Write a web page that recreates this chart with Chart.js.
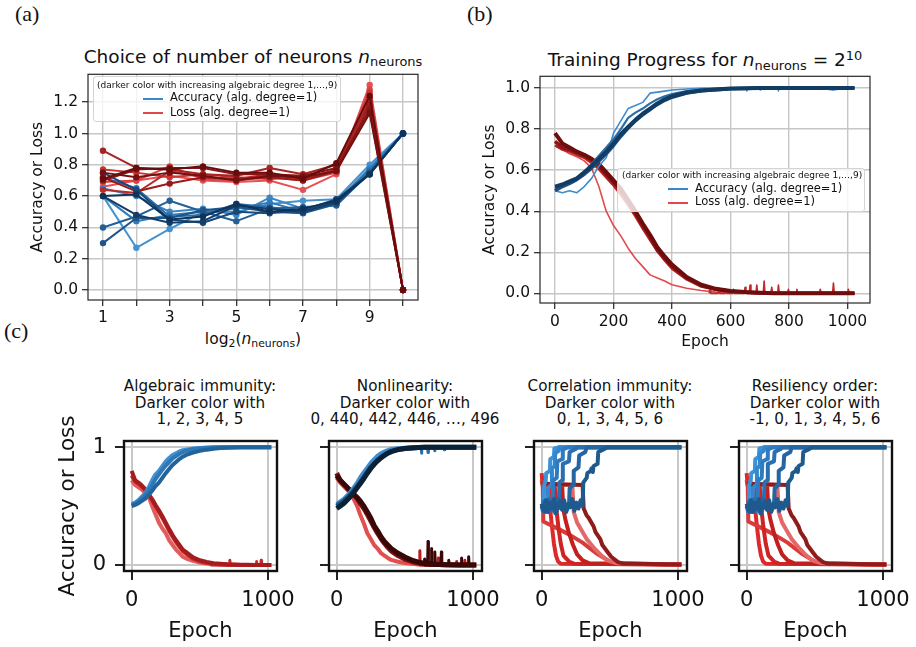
<!DOCTYPE html>
<html>
<head>
<meta charset="utf-8">
<title>Accuracy and loss vs. neurons and epochs</title>
<script src="https://cdn.jsdelivr.net/npm/chart.js@4.4.1/dist/chart.umd.min.js"></script>
<style>
  body { margin: 0; width: 916px; height: 647px; position: relative; overflow: hidden; background: #fff;
         font-family: "DejaVu Sans", sans-serif; color: #111; }
  canvas { position: absolute; }
  .t { position: absolute; white-space: nowrap; }
  .c { text-align: center; }
  .pl { font-family: "Liberation Serif", serif; font-size: 22px; line-height: 22px; }
  .sb { font-size: 70%; position: relative; top: 0.28em; }
  .sp { font-size: 70%; position: relative; top: -0.5em; }
  .leg { position: absolute; background: rgba(255,255,255,0.8); border: 1px solid #d4d4d4; border-radius: 3px; box-sizing: border-box; }
  .lh { font-size: 9px; line-height: 9px; }
  .le { font-size: 11.5px; line-height: 11.5px; }
  .ln { position: absolute; height: 2px; width: 20px; }
</style>
</head>
<body>

<div class="t pl" style="left:15px;top:3px">(a)</div>
<div class="t pl" style="left:467px;top:3px">(b)</div>
<div class="t pl" style="left:4px;top:320px">(c)</div>

<div class="t c" style="left:0;width:506px;top:47.5px;font-size:18.5px;line-height:18.5px">Choice of number of neurons <i>n</i><span class="sb">neurons</span></div>
<div class="t c" style="left:405px;width:600px;top:51px;font-size:18.5px;line-height:18.5px">Training Progress for <i>n</i><span class="sb">neurons</span> = 2<span class="sp">10</span></div>
<div class="t c" style="left:0;width:506px;top:332px;font-size:15.5px;line-height:15.5px">log<span class="sb">2</span>(<i>n</i><span class="sb">neurons</span>)</div>

<div class="t c" style="left:50px;width:300px;top:378px;font-size:15.2px;line-height:16.7px">Algebraic immunity:<br>Darker color with<br>1, 2, 3, 4, 5</div>
<div class="t c" style="left:255px;width:300px;top:378px;font-size:15.2px;line-height:16.7px">Nonlinearity:<br>Darker color with<br>0, 440, 442, 446, …, 496</div>
<div class="t c" style="left:460px;width:300px;top:378px;font-size:15.2px;line-height:16.7px">Correlation immunity:<br>Darker color with<br>0, 1, 3, 4, 5, 6</div>
<div class="t c" style="left:665px;width:300px;top:378px;font-size:15.2px;line-height:16.7px">Resiliency order:<br>Darker color with<br>-1, 0, 1, 3, 4, 5, 6</div>

<script>
// ---------- (a) final accuracy / loss vs log2(n_neurons), one row per algebraic degree 1..9
const log2Neurons = [1, 2, 3, 4, 5, 6, 7, 8, 9, 10];
const accA = [
  [0.60, 0.27, 0.39, 0.50, 0.50, 0.55, 0.57, 0.58, 0.80, 1.00],
  [0.65, 0.60, 0.50, 0.52, 0.48, 0.59, 0.52, 0.56, 0.78, 1.00],
  [0.60, 0.44, 0.48, 0.50, 0.52, 0.56, 0.50, 0.55, 0.77, 1.00],
  [0.72, 0.65, 0.47, 0.48, 0.55, 0.53, 0.50, 0.57, 0.76, 1.00],
  [0.40, 0.47, 0.57, 0.50, 0.44, 0.52, 0.53, 0.54, 0.75, 1.00],
  [0.30, 0.46, 0.46, 0.51, 0.53, 0.50, 0.49, 0.55, 0.75, 1.00],
  [0.75, 0.64, 0.45, 0.43, 0.50, 0.49, 0.51, 0.58, 0.74, 1.00],
  [0.60, 0.48, 0.43, 0.44, 0.54, 0.52, 0.50, 0.56, 0.74, 1.00],
  [0.60, 0.61, 0.45, 0.47, 0.55, 0.50, 0.52, 0.57, 0.74, 1.00]
];
const lossA = [
  [0.66, 0.70, 0.73, 0.70, 0.69, 0.70, 0.64, 0.74, 1.31, 0.00],
  [0.69, 0.70, 0.79, 0.71, 0.70, 0.72, 0.70, 0.75, 1.28, 0.00],
  [0.77, 0.75, 0.72, 0.74, 0.72, 0.71, 0.72, 0.76, 1.26, 0.00],
  [0.64, 0.62, 0.76, 0.72, 0.71, 0.74, 0.71, 0.77, 1.22, 0.00],
  [0.89, 0.78, 0.77, 0.74, 0.73, 0.78, 0.74, 0.80, 1.20, 0.00],
  [0.72, 0.63, 0.68, 0.72, 0.71, 0.72, 0.70, 0.76, 1.18, 0.00],
  [0.70, 0.77, 0.78, 0.78, 0.74, 0.74, 0.73, 0.78, 1.15, 0.00],
  [0.75, 0.72, 0.75, 0.73, 0.70, 0.73, 0.72, 0.76, 1.13, 0.00],
  [0.71, 0.78, 0.77, 0.79, 0.75, 0.75, 0.71, 0.81, 1.24, 0.00]
];
const ticksAx = [1, 2, 3, 4, 5, 6, 7, 8, 9, 10];
const ticksAy = [0, 0.2, 0.4, 0.6, 0.8, 1.0, 1.2];

// ---------- (b) training progress, n_neurons = 2^10
const epochs = [0, 25, 50, 75, 100, 125, 150, 175, 200, 225, 250, 275, 300, 325, 350, 375, 400,
                450, 500, 550, 600, 650, 700, 750, 800, 850, 900, 950, 1000, 1024];
const accB1 = [0.50, 0.49, 0.50, 0.49, 0.52, 0.56, 0.62, 0.66, 0.78, 0.84, 0.90, 0.915, 0.93, 0.975, 0.98, 0.985, 0.99,
               0.995, 0.998, 1, 1, 0.995, 1, 1, 1, 1, 1, 0.99, 1, 1];
const accB2 = [0.51, 0.52, 0.54, 0.56, 0.59, 0.63, 0.67, 0.71, 0.75, 0.80, 0.855, 0.88, 0.90, 0.925, 0.945, 0.96, 0.97,
               0.985, 0.992, 0.996, 0.998, 1, 1, 1, 1, 1, 1, 1, 1, 1];
const accB5 = [0.50, 0.52, 0.535, 0.555, 0.58, 0.61, 0.645, 0.68, 0.72, 0.765, 0.805, 0.84, 0.87, 0.895, 0.92, 0.94, 0.955,
               0.975, 0.986, 0.992, 0.996, 0.998, 1, 1, 1, 1, 1, 1, 1, 1];
const accB9 = [0.52, 0.53, 0.545, 0.56, 0.59, 0.62, 0.655, 0.69, 0.73, 0.775, 0.81, 0.845, 0.875, 0.90, 0.925, 0.945, 0.96,
               0.978, 0.988, 0.993, 0.997, 0.999, 1, 1, 1, 1, 1, 1, 1, 1];
const lossB1 = [0.72, 0.70, 0.68, 0.665, 0.645, 0.61, 0.52, 0.40, 0.33, 0.28, 0.22, 0.17, 0.13, 0.09, 0.075, 0.06, 0.042,
                0.025, 0.014, 0.006, 0.003, 0.001, 0, 0, 0, 0, 0, 0, 0, 0];
const lossB3 = [0.72, 0.70, 0.69, 0.675, 0.66, 0.635, 0.605, 0.565, 0.525, 0.48, 0.43, 0.375, 0.315, 0.26, 0.205, 0.16, 0.12,
                0.068, 0.033, 0.017, 0.008, 0.004, 0.002, 0.001, 0, 0, 0, 0, 0, 0];
const lossB6 = [0.74, 0.71, 0.70, 0.685, 0.67, 0.65, 0.62, 0.58, 0.54, 0.50, 0.445, 0.39, 0.33, 0.275, 0.21, 0.17, 0.13,
                0.075, 0.038, 0.02, 0.01, 0.005, 0.002, 0.001, 0, 0, 0, 0, 0, 0];
const lossB9 = [0.78, 0.73, 0.71, 0.69, 0.675, 0.655, 0.63, 0.59, 0.55, 0.51, 0.455, 0.40, 0.34, 0.285, 0.225, 0.18, 0.14,
                0.08, 0.042, 0.022, 0.011, 0.006, 0.003, 0.001, 0, 0, 0, 0, 0, 0];
const spikeEpochsB = [530, 560, 585, 610, 650, 667, 690, 715, 741, 764, 798, 827, 907, 952, 1003];
const spikeLossB = [0.02, 0.015, 0.015, 0.02, 0.03, 0.04, 0.04, 0.06, 0.03, 0.04, 0.02, 0.02, 0.02, 0.05, 0.02];
const dipEpochsB = [656, 701, 764, 952];
const dipAccB = [0.985, 0.99, 0.985, 0.99];
const ticksBx = [0, 200, 400, 600, 800, 1000];
const ticksBy = [0, 0.2, 0.4, 0.6, 0.8, 1.0];

// ---------- (c) algebraic immunity
const accAI1 = [0.52, 0.53, 0.55, 0.58, 0.61, 0.66, 0.72, 0.77, 0.80, 0.84, 0.88, 0.91, 0.935, 0.95, 0.965, 0.975, 0.98,
                0.99, 0.995, 0.998, 1, 1, 1, 1, 1, 1, 1, 1, 1, 1];
const accAI3 = [0.51, 0.52, 0.54, 0.565, 0.595, 0.635, 0.68, 0.73, 0.77, 0.81, 0.845, 0.875, 0.905, 0.925, 0.945, 0.96, 0.97,
                0.983, 0.99, 0.995, 0.998, 1, 1, 1, 1, 1, 1, 1, 1, 1];
const accAI5 = [0.50, 0.51, 0.525, 0.545, 0.565, 0.595, 0.63, 0.67, 0.70, 0.74, 0.78, 0.815, 0.85, 0.875, 0.90, 0.92, 0.935,
                0.955, 0.97, 0.98, 0.988, 0.993, 0.996, 0.998, 1, 1, 1, 1, 1, 1];
const lossAI1 = [0.72, 0.68, 0.66, 0.64, 0.61, 0.58, 0.50, 0.43, 0.36, 0.31, 0.27, 0.21, 0.17, 0.13, 0.10, 0.07, 0.055,
                 0.035, 0.02, 0.012, 0.007, 0.004, 0.002, 0, 0, 0, 0, 0, 0, 0];
const lossAI3 = [0.76, 0.71, 0.69, 0.665, 0.635, 0.595, 0.55, 0.50, 0.45, 0.40, 0.345, 0.29, 0.24, 0.195, 0.155, 0.12, 0.095,
                 0.055, 0.032, 0.018, 0.01, 0.006, 0.003, 0.002, 0.001, 0, 0, 0, 0, 0];
const lossAI5 = [0.80, 0.72, 0.70, 0.675, 0.645, 0.60, 0.56, 0.51, 0.465, 0.415, 0.36, 0.305, 0.255, 0.21, 0.17, 0.13, 0.11,
                 0.065, 0.04, 0.025, 0.015, 0.01, 0.006, 0.004, 0.003, 0.002, 0.001, 0, 0, 0];
const spikeEpochsAI = [580, 720, 915, 950];
const spikeLossAI = [0.015, 0.04, 0.03, 0.04];

// ---------- (c) nonlinearity
const accNL0 = [0.52, 0.54, 0.56, 0.59, 0.62, 0.66, 0.70, 0.75, 0.79, 0.83, 0.87, 0.90, 0.93, 0.95, 0.965, 0.975, 0.985,
                0.993, 0.997, 1, 1, 1, 1, 1, 1, 1, 1, 1, 1, 1];
const accNL446 = [0.50, 0.52, 0.54, 0.565, 0.595, 0.63, 0.665, 0.705, 0.745, 0.79, 0.83, 0.86, 0.89, 0.915, 0.935, 0.952, 0.965,
                  0.982, 0.99, 0.995, 0.998, 1, 1, 1, 1, 1, 1, 1, 1, 1];
const accNL496 = [0.48, 0.50, 0.52, 0.55, 0.58, 0.615, 0.655, 0.695, 0.735, 0.78, 0.82, 0.855, 0.885, 0.91, 0.93, 0.95, 0.963,
                  0.98, 0.99, 0.995, 0.998, 1, 1, 1, 1, 1, 1, 1, 1, 1];
const lossNL0 = [0.74, 0.70, 0.67, 0.64, 0.61, 0.56, 0.50, 0.42, 0.35, 0.27, 0.22, 0.17, 0.14, 0.10, 0.08, 0.06, 0.043,
                 0.028, 0.017, 0.01, 0.005, 0.002, 0, 0, 0, 0, 0, 0, 0, 0];
const lossNL446 = [0.78, 0.72, 0.69, 0.66, 0.63, 0.60, 0.565, 0.52, 0.48, 0.43, 0.375, 0.32, 0.27, 0.225, 0.185, 0.15, 0.12,
                   0.08, 0.05, 0.03, 0.017, 0.01, 0.006, 0.004, 0.002, 0.001, 0, 0, 0, 0];
const lossNL496 = [0.76, 0.72, 0.69, 0.66, 0.63, 0.60, 0.575, 0.54, 0.50, 0.45, 0.40, 0.335, 0.29, 0.24, 0.20, 0.17, 0.14,
                   0.10, 0.068, 0.042, 0.024, 0.014, 0.008, 0.005, 0.003, 0.002, 0.001, 0, 0, 0];
const spikeEpochsNLred = [610, 745, 880, 940];
const spikeLossNLred = [0.12, 0.06, 0.03, 0.04];
const spikeEpochsNLdark = [645, 670, 695, 720, 768, 822, 915, 968];
const spikeLossNLdark = [0.05, 0.20, 0.14, 0.11, 0.11, 0.04, 0.06, 0.07];
const dipEpochsNL = [622, 670, 720, 790];
const dipAccNL = [0.95, 0.955, 0.97, 0.98];

// ---------- (c) correlation immunity / resiliency: step-like runs (epoch, value)
const stepAccEpochs = [
  [0, 15, 18, 30, 33, 60, 63, 90, 93, 130, 1024],
  [0, 10, 20, 30, 40, 45, 70, 75, 95, 100, 125, 130, 1024],
  [0, 15, 30, 45, 60, 80, 85, 110, 115, 150, 155, 190, 1024],
  [0, 15, 30, 45, 60, 75, 90, 105, 125, 130, 150, 155, 200, 205, 250, 260, 1024],
  [0, 20, 40, 60, 80, 100, 120, 140, 160, 180, 200, 205, 230, 235, 270, 275, 320, 330, 1024],
  [0, 15, 30, 45, 60, 75, 90, 105, 120, 135, 150, 165, 180, 195, 210, 225, 240, 255, 270, 285, 300,
   305, 330, 335, 360, 365, 375, 380, 410, 415, 450, 480, 1024]
];
const stepAccValues = [
  [0.50, 0.52, 0.68, 0.72, 0.78, 0.80, 0.90, 0.92, 0.99, 1.0, 1.0],
  [0.50, 0.45, 0.54, 0.47, 0.49, 0.65, 0.68, 0.82, 0.84, 0.95, 0.97, 1.0, 1.0],
  [0.52, 0.46, 0.55, 0.47, 0.53, 0.51, 0.72, 0.74, 0.88, 0.90, 0.98, 1.0, 1.0],
  [0.48, 0.54, 0.45, 0.52, 0.56, 0.46, 0.53, 0.47, 0.49, 0.70, 0.72, 0.86, 0.88, 0.96, 0.985, 1.0, 1.0],
  [0.50, 0.45, 0.55, 0.47, 0.53, 0.44, 0.56, 0.48, 0.52, 0.46, 0.50, 0.65, 0.68, 0.80, 0.83, 0.93, 0.96, 1.0, 1.0],
  [0.52, 0.46, 0.55, 0.45, 0.53, 0.48, 0.56, 0.44, 0.51, 0.54, 0.47, 0.55, 0.45, 0.52, 0.49, 0.56, 0.46, 0.53, 0.48, 0.55, 0.50,
   0.70, 0.74, 0.78, 0.80, 0.82, 0.79, 0.84, 0.86, 0.96, 0.98, 1.0, 1.0]
];
const stepLossEpochs = [
  [0, 5, 10, 55, 60, 75, 90, 105, 120, 140, 1024],
  [0, 8, 12, 100, 200, 300, 400, 500, 600, 1024],
  [0, 95, 100, 110, 125, 140, 160, 200, 240, 1024],
  [0, 150, 158, 175, 200, 230, 260, 300, 350, 1024],
  [0, 225, 235, 260, 290, 330, 380, 430, 480, 550, 1024],
  [0, 300, 308, 330, 345, 380, 395, 430, 445, 490, 510, 560, 600, 1024]
];
const stepLossValues = [
  [0.78, 0.70, 0.68, 0.67, 0.50, 0.33, 0.18, 0.08, 0.03, 0.01, 0.005],
  [0.72, 0.66, 0.37, 0.32, 0.26, 0.19, 0.10, 0.03, 0.01, 0.005],
  [0.70, 0.68, 0.60, 0.45, 0.30, 0.18, 0.08, 0.03, 0.01, 0.005],
  [0.69, 0.68, 0.48, 0.38, 0.27, 0.17, 0.09, 0.04, 0.015, 0.005],
  [0.69, 0.68, 0.45, 0.36, 0.30, 0.22, 0.15, 0.09, 0.04, 0.015, 0.005],
  [0.69, 0.68, 0.48, 0.42, 0.40, 0.33, 0.28, 0.22, 0.17, 0.10, 0.07, 0.025, 0.012, 0.005]
];
const ticksCx = [0, 1000];
const ticksCy = [0, 1];

// ---------- styling
const FONT = 'DejaVu Sans';
const INK = '#111';
const bluesA = ['#4592cf', '#3b86c4', '#3279b5', '#2b6da7', '#246098', '#1e5488', '#184878', '#133e69', '#0e345b'];
const redsA = ['#e45055', '#d94242', '#cb3434', '#bb2a2a', '#aa2222', '#981b1b', '#861515', '#751010', '#670c0c'];
const stepBlues = ['#3d93d9', '#3587cd', '#2e7bc0', '#2a70b1', '#2565a2', '#1f5a8e'];
const stepReds = ['#dc2a2a', '#d93a3a', '#cf2424', '#c21f1f', '#e46868', '#8f1b1b'];

Chart.defaults.font.family = FONT;

const frame = {
  id: 'frame',
  afterDatasetsDraw(chart, args, opts) {
    const {ctx, chartArea: a} = chart;
    ctx.save();
    ctx.strokeStyle = opts.color;
    ctx.lineWidth = opts.width;
    ctx.strokeRect(a.left, a.top, a.right - a.left, a.bottom - a.top);
    ctx.restore();
  }
};

function pts(xs, ys) { return xs.map((x, i) => ({x: x, y: ys[i]})); }
function spikes(xs, ys, base) {
  const out = [];
  xs.forEach((x, i) => { out.push({x: x - 3, y: base}, {x: x, y: ys[i]}, {x: x + 3, y: base}); });
  return out;
}
function line(data, color, width, extra) {
  return Object.assign({data: data, borderColor: color, backgroundColor: color, borderWidth: width,
                        pointRadius: 0, fill: false, borderJoinStyle: 'round'}, extra || {});
}

function plot(o) {
  const cv = document.createElement('canvas');
  cv.width = o.w; cv.height = o.h;
  cv.style.left = o.x + 'px'; cv.style.top = o.y + 'px';
  document.body.appendChild(cv);
  const n = o.datasets.length;
  const grid = {color: o.gridColor, lineWidth: o.gridWidth, tickColor: '#222', tickLength: o.tickLen, tickWidth: o.tickWidth};
  const font = {family: FONT, size: o.fontSize};
  return new Chart(cv, {
    type: 'line',
    data: {datasets: o.datasets.map((d, i) => Object.assign({order: n - i}, d))},
    options: {
      responsive: false, animation: false, events: [], devicePixelRatio: 1,
      layout: {padding: {left: 0, top: o.area[1] - o.y, right: o.x + o.w - o.area[2], bottom: 0}},
      plugins: {legend: {display: false}, tooltip: {enabled: false}, frame: {color: o.frameColor, width: o.frameWidth}},
      elements: {line: {tension: 0}},
      scales: {
        x: {
          type: 'linear', min: o.xr[0], max: o.xr[1],
          afterBuildTicks: s => { s.ticks = o.xt.map(v => ({value: v})); },
          afterFit: s => { s.height = o.y + o.h - o.area[3]; },
          grid: grid, border: {display: false},
          ticks: {autoSkip: false, maxRotation: 0, minRotation: 0, padding: o.xPad, font: font, color: INK, callback: o.xFmt},
          title: o.xTitle ? {display: true, text: o.xTitle, color: INK, font: {family: FONT, size: o.xTitleSize},
                             padding: {top: 0, bottom: o.xTitlePad}} : {display: false}
        },
        y: {
          type: 'linear', min: o.yr[0], max: o.yr[1],
          afterBuildTicks: s => { s.ticks = o.yt.map(v => ({value: v})); },
          afterFit: s => { s.width = o.area[0] - o.x; },
          grid: grid, border: {display: false},
          ticks: {autoSkip: false, padding: o.yPad, font: font, color: INK, callback: o.yFmt},
          title: o.yTitle ? {display: true, text: o.yTitle, color: INK, font: {family: FONT, size: o.yTitleSize},
                             padding: {top: o.yTitlePad, bottom: 0}} : {display: false}
        }
      }
    },
    plugins: [frame]
  });
}

// ---------- (a)
const dsA = [];
for (let k = 0; k < 9; k++) {
  dsA.push(line(pts(log2Neurons, accA[k]), bluesA[k], 2, {pointRadius: 3.2, pointBorderWidth: 0}));
  dsA.push(line(pts(log2Neurons, lossA[k]), redsA[k], 2, {pointRadius: 3.2, pointBorderWidth: 0}));
}
plot({
  x: 0, y: 61, w: 438, h: 297, area: [88, 73, 418, 300],
  xr: [0.55, 10.45], yr: [-0.0635, 1.378], xt: ticksAx, yt: ticksAy,
  xFmt: v => (v % 2 === 1 && v < 10) ? String(v) : '', yFmt: v => v.toFixed(1),
  fontSize: 15.5, xPad: 3, yPad: 4, tickLen: 6, tickWidth: 1.2,
  gridColor: '#c6c6c6', gridWidth: 1.4, frameColor: '#262626', frameWidth: 1.2,
  yTitle: 'Accuracy or Loss', yTitleSize: 15.5, yTitlePad: 29,
  datasets: dsA
});

// ---------- (b)
plot({
  x: 460, y: 63, w: 440, h: 302, area: [540, 75, 870, 303],
  xr: [-51.3, 1077], yr: [-0.047, 1.057], xt: ticksBx, yt: ticksBy,
  xFmt: v => String(v), yFmt: v => v.toFixed(1),
  fontSize: 15.5, xPad: 3.5, yPad: 4, tickLen: 6, tickWidth: 1.2,
  gridColor: '#c6c6c6', gridWidth: 1.4, frameColor: '#262626', frameWidth: 1.2,
  yTitle: 'Accuracy or Loss', yTitleSize: 15.5, yTitlePad: 20.7,
  xTitle: 'Epoch', xTitleSize: 15.5, xTitlePad: 13.7,
  datasets: [
    line(pts(epochs, lossB1), '#e34a4f', 1.6),
    line(pts(epochs, lossB3), '#b52222', 2.5),
    line(pts(epochs, lossB6), '#8e1515', 3.5),
    line(spikes(spikeEpochsB, spikeLossB, 0), '#c22a2a', 1.6),
    line(pts(epochs, lossB9), '#6e0d0d', 4),
    line(pts(epochs, accB1), '#3d8ccf', 1.6),
    line(spikes(dipEpochsB, dipAccB, 1), '#3d8ccf', 1.4),
    line(pts(epochs, accB2), '#2c6fa8', 2.2),
    line(pts(epochs, accB5), '#1d5182', 3.5),
    line(pts(epochs, accB9), '#123c62', 4)
  ]
});

// ---------- (c)
const cLefts = [124, 329, 534, 739];
function plotC(i, datasets) {
  const l = cLefts[i];
  const x = i === 0 ? 40 : l - 15;
  plot({
    x: x, y: 400, w: l + 153 + 30 - x, h: 247, area: [l, 441, l + 153, 571],
    xr: [-56.4, 1066], yr: [-0.051, 1.0535], xt: ticksCx, yt: ticksCy,
    xFmt: v => String(v), yFmt: i === 0 ? (v => String(v)) : (() => ''),
    fontSize: 21, xPad: 8, yPad: 9, tickLen: 9, tickWidth: 2,
    gridColor: '#c8c8c8', gridWidth: 2, frameColor: '#111', frameWidth: 2.4,
    yTitle: i === 0 ? 'Accuracy or Loss' : '', yTitleSize: 21.5, yTitlePad: 15.1,
    xTitle: 'Epoch', xTitleSize: 21, xTitlePad: 2.4,
    datasets: datasets
  });
}

plotC(0, [
  line(pts(epochs, lossAI1), '#e25c5c', 4),
  line(pts(epochs, lossAI3), '#c62a2a', 4),
  line(spikes(spikeEpochsAI, spikeLossAI, 0), '#c62a2a', 3),
  line(pts(epochs, lossAI5), '#a51c1e', 4),
  line(pts(epochs, accAI1), '#4090d2', 4),
  line(pts(epochs, accAI3), '#2f78b8', 4),
  line(pts(epochs, accAI5), '#21639b', 4)
]);

plotC(1, [
  line(pts(epochs, lossNL0), '#e34e4e', 4),
  line(spikes(spikeEpochsNLred, spikeLossNLred, 0), '#b81c1c', 3),
  line(pts(epochs, lossNL446), '#7a1010', 5),
  line(spikes(spikeEpochsNLdark, spikeLossNLdark, 0), '#3a0707', 3),
  line(pts(epochs, lossNL496), '#380707', 5),
  line(pts(epochs, accNL0), '#3d8ed3', 4),
  line(spikes(dipEpochsNL, dipAccNL, 1), '#2c6fa8', 3),
  line(pts(epochs, accNL446), '#1e4f7c', 5),
  line(pts(epochs, accNL496), '#0a2136', 5)
]);

function stepSets() {
  const ds = [];
  stepLossEpochs.forEach((e, k) => ds.push(line(pts(e, stepLossValues[k]), stepReds[k], 4)));
  stepAccEpochs.forEach((e, k) => ds.push(line(pts(e, stepAccValues[k]), stepBlues[k], 4)));
  return ds;
}
plotC(2, stepSets());
plotC(3, stepSets());
</script>

<div class="leg" style="left:93px;top:76px;width:248px;height:46px"></div>
<div class="t lh" style="left:97px;top:81.4px">(darker color with increasing algebraic degree 1,…,9)</div>
<div class="ln" style="left:143px;top:97.5px;background:#3a87c8"></div>
<div class="t le" style="left:170px;top:92.3px">Accuracy (alg. degree=1)</div>
<div class="ln" style="left:143px;top:111.7px;background:#e0484e"></div>
<div class="t le" style="left:170px;top:106.6px">Loss (alg. degree=1)</div>

<div class="leg" style="left:617px;top:168px;width:248px;height:44px"></div>
<div class="t lh" style="left:622px;top:171.4px">(darker color with increasing algebraic degree 1,…,9)</div>
<div class="ln" style="left:668px;top:188px;background:#3a87c8"></div>
<div class="t le" style="left:695px;top:182.8px">Accuracy (alg. degree=1)</div>
<div class="ln" style="left:668px;top:201.5px;background:#e0484e"></div>
<div class="t le" style="left:695px;top:196.3px">Loss (alg. degree=1)</div>

</body>
</html>
